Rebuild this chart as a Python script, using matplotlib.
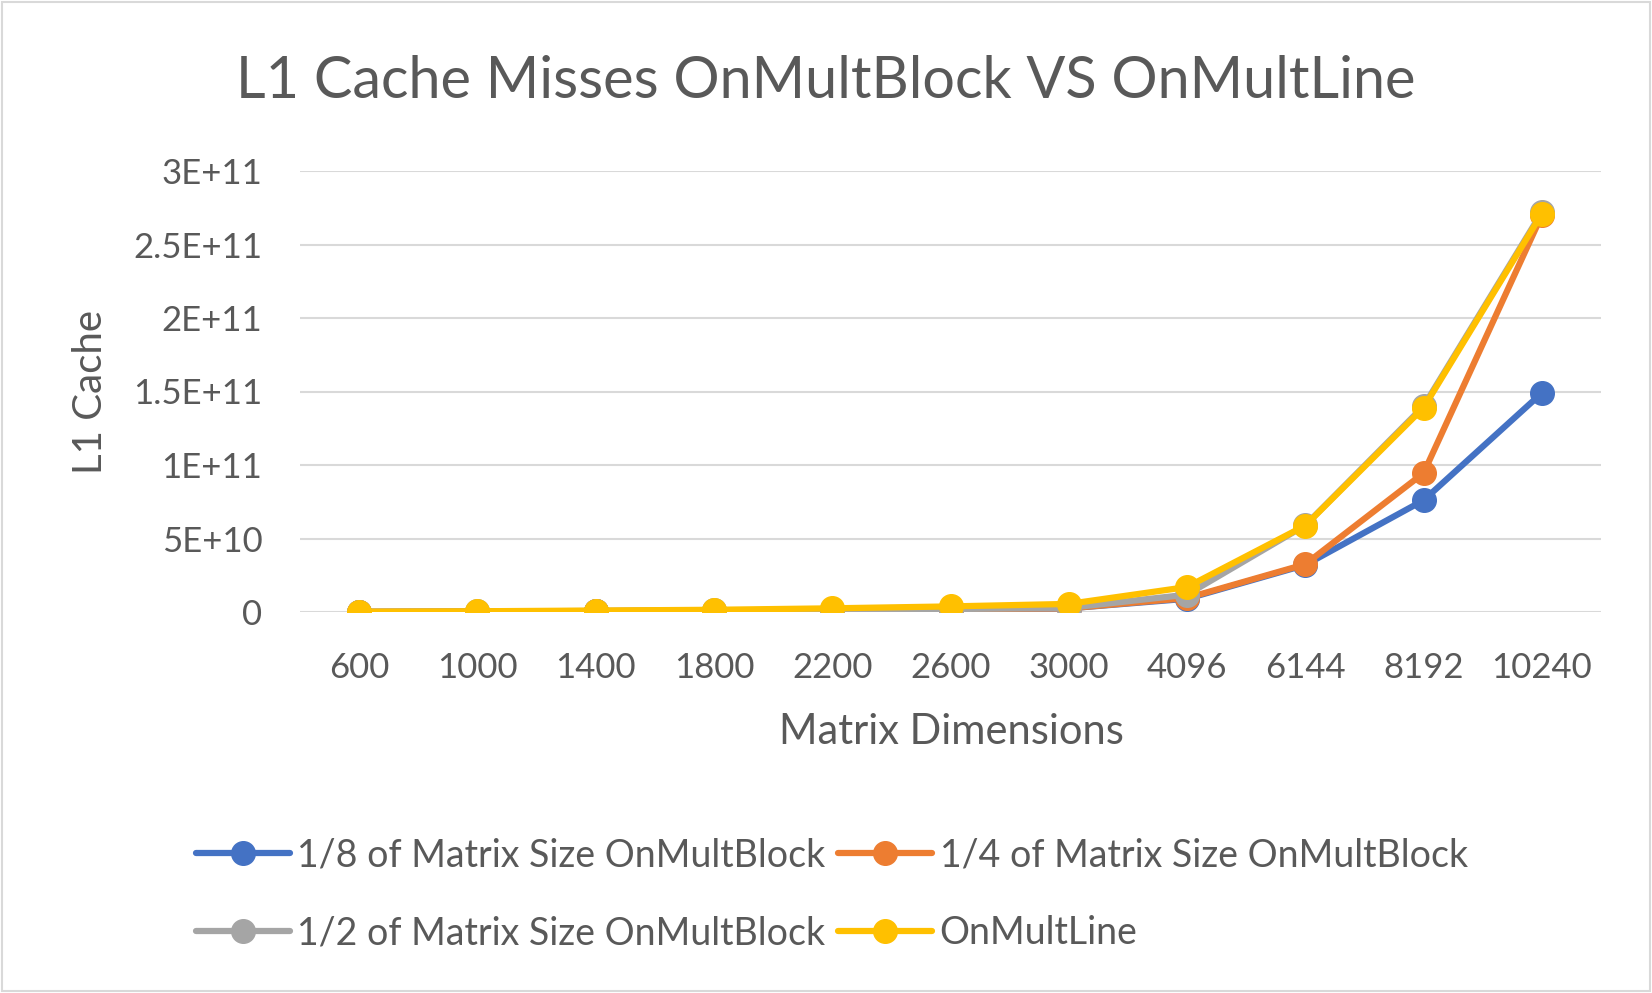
import matplotlib
matplotlib.use("Agg")
import matplotlib.pyplot as plt
from matplotlib.patches import Rectangle

plt.rcParams['font.family'] = ['Lato', 'DejaVu Sans']

categories = ["600", "1000", "1400", "1800", "2200", "2600", "3000", "4096", "6144", "8192", "10240"]
block_1_8 = [1.0e8, 3.0e8, 6.0e8, 1.0e9, 1.5e9, 1.8e9, 2.5e9, 9.0e9, 3.2e10, 7.6e10, 1.49e11]
block_1_4 = [1.0e8, 3.0e8, 6.0e8, 1.0e9, 1.5e9, 1.8e9, 2.5e9, 9.5e9, 3.25e10, 9.45e10, 2.70e11]
block_1_2 = [1.2e8, 3.5e8, 7.0e8, 1.1e9, 1.6e9, 2.0e9, 2.8e9, 1.18e10, 5.9e10, 1.40e11, 2.72e11]
mult_line = [2.0e8, 5.0e8, 1.0e9, 1.5e9, 2.5e9, 3.8e9, 5.5e9, 1.70e10, 5.88e10, 1.39e11, 2.71e11]

series = [
    ("1/8 of Matrix Size OnMultBlock", block_1_8, "#4472C4"),
    ("1/4 of Matrix Size OnMultBlock", block_1_4, "#ED7D31"),
    ("1/2 of Matrix Size OnMultBlock", block_1_2, "#A5A5A5"),
    ("OnMultLine", mult_line, "#FFC000"),
]
yticks = [0, 5e10, 1e11, 1.5e11, 2e11, 2.5e11, 3e11]
ytick_labels = ["0", "5E+10", "1E+11", "1.5E+11", "2E+11", "2.5E+11", "3E+11"]

W, H = 1652, 993
fig = plt.figure(figsize=(W / 100, H / 100), dpi=100)
fig.patches.append(Rectangle((0.0015, 0.002), 0.997, 0.996, transform=fig.transFigure,
                             fill=False, edgecolor="#D9D9D9", linewidth=1.5))

ax = fig.add_axes([300 / W, 1 - 612 / H, (1601 - 300) / W, (612 - 171) / H])
x = list(range(len(categories)))
handles = []
for label, vals, color in series:
    h, = ax.plot(x, vals, color=color, linewidth=4.5, marker="o", markersize=17,
                 label=label, solid_capstyle="round", solid_joinstyle="round")
    handles.append(h)

ax.set_xlim(-0.5, len(categories) - 0.5)
ax.set_ylim(0, 3e11)
ax.set_yticks(yticks)
ax.set_yticklabels(ytick_labels)
ax.set_xticks(x)
ax.set_xticklabels(categories)
ax.grid(axis="y", color="#D9D9D9", linewidth=1.5)
ax.set_axisbelow(True)
for s in ax.spines.values():
    s.set_visible(False)
ax.tick_params(axis="both", length=0, colors="#595959")
ax.tick_params(axis="y", pad=27, labelsize=25)
ax.tick_params(axis="x", pad=29, labelsize=25)

ax.set_xlabel("Matrix Dimensions", fontsize=30, color="#595959")
ax.xaxis.set_label_coords(0.5004, (612 - 732) / 441)
ax.xaxis.label.set_va("center")
ax.set_ylabel("L1 Cache", fontsize=29, color="#595959")
ax.yaxis.set_label_coords((90 - 300) / 1301, 0.5)
ax.yaxis.label.set_va("center")

fig.text(0.5, 1 - 82 / H, "L1 Cache Misses OnMultBlock VS OnMultLine", ha="center", va="center",
         fontsize=41.5, color="#595959")

order = [0, 2, 1, 3]
leg = fig.legend([handles[i] for i in order], [series[i][0] for i in order],
                 loc="center", bbox_to_anchor=(0.5036, 1 - 894 / H), ncol=2, frameon=False,
                 fontsize=27, handlelength=2.5, handletextpad=0.2, columnspacing=0.34,
                 labelspacing=1.12, labelcolor="#595959")

fig.savefig("out.png", dpi=100)
